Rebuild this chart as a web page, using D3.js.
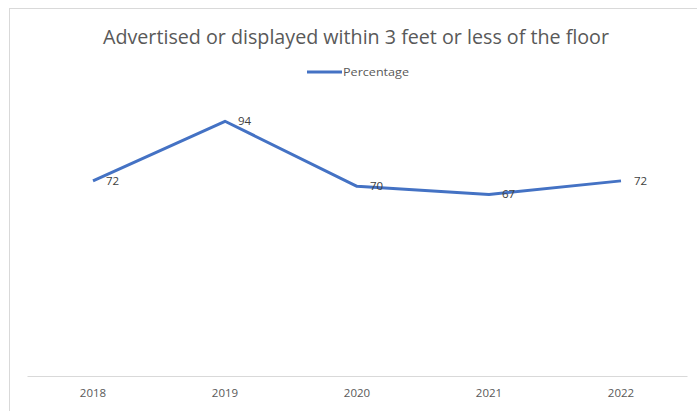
<!DOCTYPE html>
<html>
<head>
<meta charset="utf-8">
<script src="https://cdn.jsdelivr.net/npm/d3@7"></script>
<style>
html,body{margin:0;padding:0;background:#fff;}
svg{display:block;font-family:"Open Sans","Noto Sans",sans-serif;}
</style>
</head>
<body>
<svg id="chart" width="697" height="411"></svg>
<script>
const years = ["2018", "2019", "2020", "2021", "2022"];
const percentage = [72, 94, 70, 67, 72];
const seriesName = "Percentage";
const chartTitle = "Advertised or displayed within 3 feet or less of the floor";

const svg = d3.select("#chart");
const W = 697, H = 411;
const margin = {left: 27, right: 10, top: 105, bottom: 35};

// chart border
svg.append("rect").attr("x", 9.5).attr("y", 8.5).attr("width", W + 10).attr("height", H + 10)
  .attr("fill", "#fff").attr("stroke", "#d9d9d9").attr("stroke-width", 1);

const x = d3.scaleBand().domain(years).range([27, 687]);
const y = d3.scaleLinear().domain([0, 100]).range([376, 105]);

// title
svg.append("text").attr("x", 356).attr("y", 44).attr("text-anchor", "middle")
  .attr("font-size", 20).attr("fill", "#595959")
  .attr("textLength", 506).attr("lengthAdjust", "spacingAndGlyphs")
  .text(chartTitle);

// legend
const lg = svg.append("g");
lg.append("line").attr("x1", 307).attr("x2", 342).attr("y1", 72).attr("y2", 72)
  .attr("stroke", "#4472c4").attr("stroke-width", 3);
lg.append("text").attr("x", 343).attr("y", 76).attr("font-size", 11.5).attr("fill", "#595959")
  .attr("textLength", 66).attr("lengthAdjust", "spacingAndGlyphs")
  .text(seriesName);

// x axis
const xAxis = svg.append("g").attr("transform", "translate(0,376)")
  .call(d3.axisBottom(x).tickSize(0).tickPadding(13));
xAxis.select(".domain").attr("stroke", "#d9d9d9").attr("stroke-width", 1);
xAxis.selectAll("text").attr("font-size", 11.5).attr("fill", "#595959")
  .attr("font-family", "Open Sans, Noto Sans, sans-serif");

// line
const cx = d => x(d) + x.bandwidth() / 2;
const line = d3.line().x((d, i) => cx(years[i])).y(d => y(d));
svg.append("path").datum(percentage).attr("d", line)
  .attr("fill", "none").attr("stroke", "#4472c4").attr("stroke-width", 3)
  .attr("stroke-linejoin", "round");

// data labels
svg.selectAll("text.lbl").data(percentage).enter().append("text").attr("class", "lbl")
  .attr("x", (d, i) => cx(years[i]) + 13).attr("y", d => y(d) + 4)
  .attr("font-size", 11.5).attr("fill", "#404040")
  .text(d => d);
</script>
</body>
</html>
